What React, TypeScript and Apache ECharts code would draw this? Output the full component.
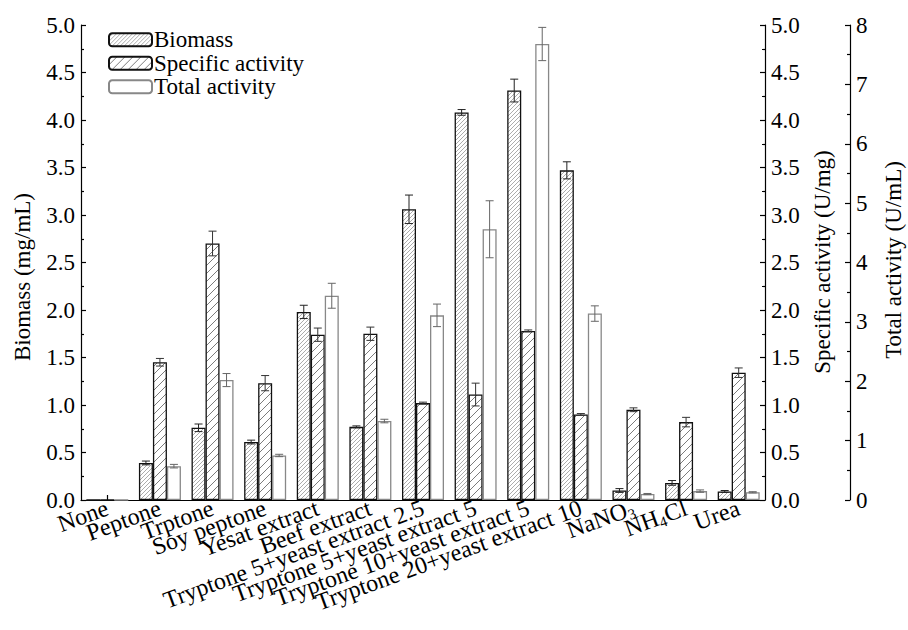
import React, { useEffect, useRef } from "react";
import * as echarts from "echarts";

const categories = [
  "None",
  "Peptone",
  "Trptone",
  "Soy peptone",
  "Yesat extract",
  "Beef extract",
  "Tryptone 5+yeast extract 2.5",
  "Tryptone 5+yeast extract 5",
  "Tryptone 10+yeast extract 5",
  "Tryptone 20+yeast extract 10",
  "NaNO3",
  "NH4Cl",
  "Urea",
];
const biomass = [0, 0.39, 0.76, 0.61, 1.98, 0.77, 3.06, 4.08, 4.31, 3.47, 0.1, 0.18, 0.09];
const biomassErr = [0, 0.02, 0.04, 0.02, 0.07, 0.01, 0.15, 0.03, 0.12, 0.09, 0.02, 0.025, 0.01];
const specific = [0, 1.45, 2.7, 1.23, 1.74, 1.75, 1.02, 1.11, 1.78, 0.9, 0.95, 0.82, 1.34];
const specificErr = [0, 0.04, 0.13, 0.08, 0.07, 0.07, 0.01, 0.12, 0.01, 0.01, 0.02, 0.05, 0.05];
const total = [0, 0.57, 2.02, 0.75, 3.44, 1.33, 3.11, 4.56, 7.68, 3.14, 0.1, 0.15, 0.13];
const totalErr = [0, 0.03, 0.11, 0.02, 0.21, 0.03, 0.19, 0.48, 0.28, 0.13, 0.01, 0.02, 0.01];
const leftTicks = [0, 5, 0.5];
const totalTicks = [0, 8, 1];

const FONT = "'Liberation Serif', 'Times New Roman', serif";
const FS = 23;
const FSX = 24;
const BAR_W = 14;

function hatch(size: number, color: string, lw: number) {
  const c = document.createElement("canvas");
  c.width = size;
  c.height = size;
  const ctx = c.getContext("2d")!;
  ctx.fillStyle = "#fff";
  ctx.fillRect(0, 0, size, size);
  ctx.strokeStyle = color;
  ctx.lineWidth = lw;
  ctx.beginPath();
  ctx.moveTo(-1, size + 1);
  ctx.lineTo(size + 1, -1);
  ctx.moveTo(-1, 1);
  ctx.lineTo(1, -1);
  ctx.moveTo(size - 1, size + 1);
  ctx.lineTo(size + 1, size - 1);
  ctx.stroke();
  return c;
}

function errSeries(vals: number[], errs: number[], yIdx: number, offset: number, color: string) {
  return {
    type: "custom",
    yAxisIndex: yIdx,
    z: 10,
    silent: true,
    encode: { x: 0, y: 1 },
    data: vals.map((v, i) => [i, v, errs[i]]),
    renderItem: (params: any, api: any) => {
      const v = api.value(1);
      const e = api.value(2);
      if (!v) return { type: "group", children: [] };
      const base = api.coord([api.value(0), v]);
      const x = base[0] + offset;
      const yt = api.coord([api.value(0), v + e])[1];
      const yb = api.coord([api.value(0), v - e])[1];
      const cw = 4;
      const st = { stroke: color, lineWidth: 1 };
      return {
        type: "group",
        children: [
          { type: "line", shape: { x1: x, y1: yt, x2: x, y2: yb }, style: st },
          { type: "line", shape: { x1: x - cw, y1: yt, x2: x + cw, y2: yt }, style: st },
          { type: "line", shape: { x1: x - cw, y1: yb, x2: x + cw, y2: yb }, style: st },
        ],
      };
    },
  };
}

export default function App() {
  const ref = useRef<HTMLDivElement>(null);
  useEffect(() => {
    const chart = echarts.init(ref.current!, null, { renderer: "svg" });
    const bioPat = { image: hatch(4, "#888", 0.7), repeat: "repeat" };
    const spePat = { image: hatch(8, "#444", 0.7), repeat: "repeat" };
    const axisCommon = {
      axisLine: { show: true, lineStyle: { color: "#000", width: 1.2 } },
      axisLabel: { color: "#000", fontSize: FS, fontFamily: FONT, margin: 6 },
      splitLine: { show: false },
      minorSplitLine: { show: false },
    };
    chart.setOption({
      animation: false,
      textStyle: { fontFamily: FONT },
      grid: { left: 81, right: 143, top: 25, bottom: 130 },
      legend: {
        orient: "vertical",
        left: 103,
        top: 23,
        itemWidth: 43,
        itemHeight: 13,
        itemGap: 0,
        textStyle: { fontSize: FS, fontFamily: FONT, color: "#000", lineHeight: 23.5, padding: [0, 0, 0, -3] },
        data: ["Biomass", "Specific activity", "Total activity"],
      },
      xAxis: {
        type: "category",
        data: categories,
        axisLine: { show: true, lineStyle: { color: "#000", width: 1.2 } },
        axisTick: { show: true, inside: true, alignWithLabel: true, length: 5, lineStyle: { color: "#000", width: 1.2 } },
        axisLabel: {
          interval: 0,
          rotate: 20,
          color: "#000",
          fontSize: FSX,
          fontFamily: FONT,
          margin: 7,
          formatter: (v: string) =>
            v === "NaNO3" ? "NaNO{sub|3}" : v === "NH4Cl" ? "NH{sub|4}Cl" : v,
          rich: { sub: { fontSize: 15, fontFamily: FONT, color: "#000", verticalAlign: "bottom", padding: [12, 0, 0, 0] } },
        },
      },
      yAxis: [
        {
          type: "value",
          position: "left",
          min: leftTicks[0],
          max: leftTicks[1],
          interval: leftTicks[2],
          ...axisCommon,
          axisLabel: { ...axisCommon.axisLabel, formatter: (v: number) => v.toFixed(1) },
          axisTick: { show: true, inside: true, length: 5, lineStyle: { color: "#000", width: 1.2 } },
          minorTick: { show: true, splitNumber: 2, length: 3, lineStyle: { color: "#000", width: 1.2 } },
        },
        {
          type: "value",
          position: "right",
          min: leftTicks[0],
          max: leftTicks[1],
          interval: leftTicks[2],
          ...axisCommon,
          axisLabel: { ...axisCommon.axisLabel, formatter: (v: number) => v.toFixed(1) },
          axisTick: { show: true, inside: true, length: 5, lineStyle: { color: "#000", width: 1.2 } },
          minorTick: { show: true, splitNumber: 2, length: 3, lineStyle: { color: "#000", width: 1.2 } },
        },
        {
          type: "value",
          position: "right",
          offset: 85,
          min: totalTicks[0],
          max: totalTicks[1],
          interval: totalTicks[2],
          ...axisCommon,
          axisTick: { show: true, inside: true, length: 5, lineStyle: { color: "#000", width: 1.2 } },
          minorTick: { show: true, splitNumber: 2, length: 3, lineStyle: { color: "#000", width: 1.2 } },
        },
      ],
      series: [
        {
          name: "Biomass",
          type: "bar",
          yAxisIndex: 0,
          barWidth: BAR_W,
          barGap: "0%",
          data: biomass,
          itemStyle: { color: bioPat, borderColor: "#111", borderWidth: 1.3 },
        },
        {
          name: "Specific activity",
          type: "bar",
          yAxisIndex: 1,
          barWidth: BAR_W,
          barGap: "0%",
          data: specific,
          itemStyle: { color: spePat, borderColor: "#111", borderWidth: 1.3 },
        },
        {
          name: "Total activity",
          type: "bar",
          yAxisIndex: 2,
          barWidth: BAR_W,
          barGap: "0%",
          data: total,
          itemStyle: { color: "#fff", borderColor: "#888", borderWidth: 1.3 },
        },
        errSeries(biomass, biomassErr, 0, -BAR_W, "#222"),
        errSeries(specific, specificErr, 1, 0, "#333"),
        errSeries(total, totalErr, 2, BAR_W, "#666"),
      ],
      graphic: [
        {
          type: "text",
          x: 22,
          y: 277,
          rotation: Math.PI / 2,
          style: { text: "Biomass (mg/mL)", fontSize: FS, fontFamily: FONT, fill: "#000", align: "center", verticalAlign: "middle" },
        },
        {
          type: "text",
          x: 822,
          y: 262,
          rotation: Math.PI / 2,
          style: { text: "Specific activity (U/mg)", fontSize: FS, fontFamily: FONT, fill: "#000", align: "center", verticalAlign: "middle" },
        },
        {
          type: "text",
          x: 893,
          y: 260,
          rotation: Math.PI / 2,
          style: { text: "Total activity (U/mL)", fontSize: FS, fontFamily: FONT, fill: "#000", align: "center", verticalAlign: "middle" },
        },
      ],
    });
    return () => chart.dispose();
  }, []);
  return <div ref={ref} style={{ position: "absolute", left: 0, top: 0, width: 908, height: 630 }} />;
}
